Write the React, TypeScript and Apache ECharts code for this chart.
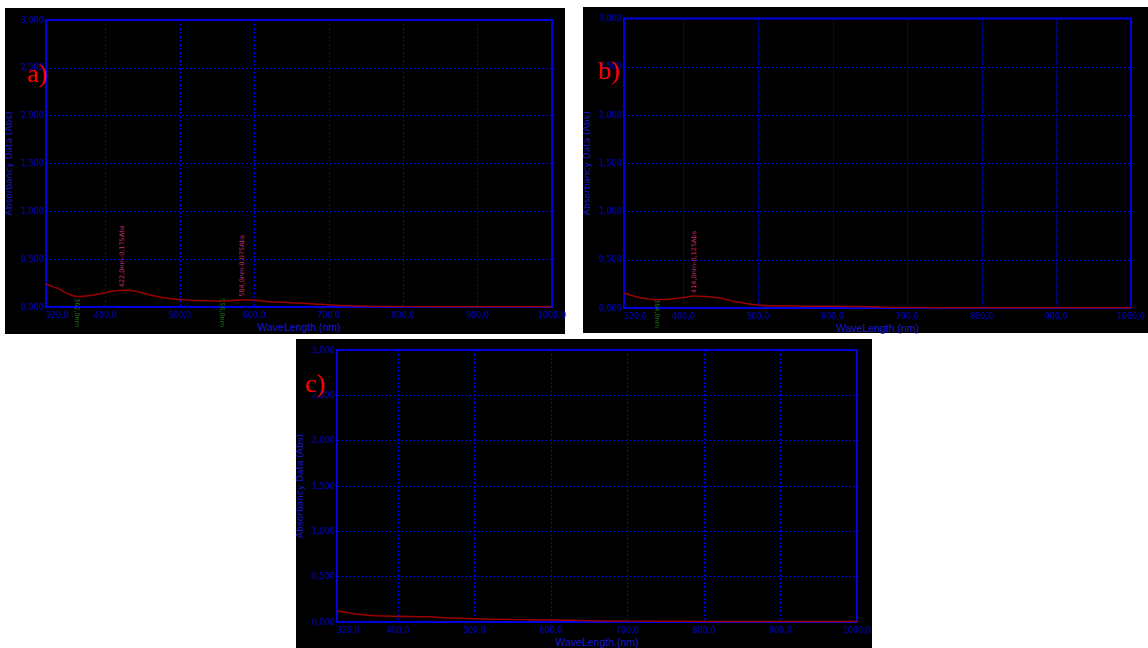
import React, { useEffect, useRef } from 'react';
import * as echarts from 'echarts';

// ---- data ----
const xTickLabels = [320, 400, 500, 600, 700, 800, 900, 1000];
const xGridValues = [400, 500, 600, 700, 800, 900];

const wavelengthsA = [320, 330, 340, 349, 362, 380, 400, 410, 422, 440, 460, 480, 500, 520, 540, 556, 570, 584, 600, 620, 650, 680, 700, 750, 800, 900, 1000];
const absorbanceA = [0.24, 0.21, 0.18, 0.14, 0.11, 0.12, 0.15, 0.165, 0.175, 0.165, 0.125, 0.095, 0.078, 0.068, 0.066, 0.06, 0.068, 0.075, 0.07, 0.056, 0.045, 0.032, 0.022, 0.009, 0.005, 0.003, 0.002];

const wavelengthsB = [320, 330, 345, 364, 380, 400, 414, 430, 450, 470, 490, 510, 550, 600, 650, 700, 800, 1000];
const absorbanceB = [0.155, 0.13, 0.1, 0.085, 0.09, 0.11, 0.125, 0.12, 0.1, 0.065, 0.038, 0.026, 0.02, 0.018, 0.012, 0.005, 0.003, 0.002];

const wavelengthsC = [320, 340, 360, 380, 400, 440, 460, 500, 550, 600, 650, 700, 800, 1000];
const absorbanceC = [0.125, 0.095, 0.075, 0.065, 0.063, 0.058, 0.047, 0.037, 0.027, 0.021, 0.015, 0.01, 0.006, 0.005];

const peakLabelsA = [
  { x: 422, y: 0.175, text: '422,0nm-0,175Abs' },
  { x: 584, y: 0.075, text: '584,0nm-0,075Abs' },
];
const valleyLabelsA = [
  { x: 362, text: '362,0nm' },
  { x: 556, text: '556,0nm' },
];
const peakLabelsB = [{ x: 414, y: 0.125, text: '414,0nm-0,125Abs' }];
const valleyLabelsB = [{ x: 364, text: '364,0nm' }];

const panelNames = ['a)', 'b)', 'c)'];

const BORDER = '#0000e0';
const GRID = '#0000e6';
const LABEL = '#0000c8';
const TITLE = '#1a1ad0';
const CURVE = '#9a0000';
const PEAK = '#c0306a';
const VALLEY = '#1d7a1d';

const fmtX = (v: number) => v.toFixed(1).replace('.', ',');
const fmtY = (v: number) => v.toFixed(3).replace('.', ',');

export default function App() {
  const ref = useRef<HTMLDivElement>(null);
  useEffect(() => {
    if (!ref.current) return;
    const chart = echarts.init(ref.current, null, { renderer: 'svg' });

    const grids = [
      { left: 46, top: 20, width: 506, height: 287 },
      { left: 624, top: 18.5, width: 519, height: 289.5 },
      { left: 337, top: 350, width: 520, height: 277 },
    ];

    const panels = [
      { x: 5, y: 8, w: 560, h: 326 },
      { x: 583, y: 7, w: 565, h: 326 },
      { x: 296, y: 339, w: 576, h: 309 },
    ];
    const namePos = [
      { x: 27, y: 73 },
      { x: 598, y: 70 },
      { x: 305, y: 383 },
    ];

    const xAxes = grids.map((_, i) => ({
      type: 'value',
      gridIndex: i,
      min: 320,
      max: 1000,
      name: 'WaveLength.(nm)',
      nameLocation: 'middle',
      nameGap: 14,
      nameTextStyle: { color: TITLE, fontSize: 10.5, fontFamily: 'Liberation Sans' },
      axisLine: { show: true, lineStyle: { color: BORDER, width: 2 } },
      axisTick: { show: false, customValues: xGridValues },
      axisLabel: {
        customValues: xTickLabels,
        formatter: fmtX,
        color: LABEL,
        fontSize: 8,
        fontFamily: 'DejaVu Sans',
        margin: 4,
        alignMinLabel: 'left',
        alignMaxLabel: 'center',
      },
      splitLine: { show: true, lineStyle: { color: GRID, type: [2, 2], width: 1 } },
    }));

    const yAxes = grids.map((_, i) => ({
      type: 'value',
      gridIndex: i,
      min: 0,
      max: 3,
      interval: 0.5,
      name: 'Absorbancy Data (Abs)',
      nameLocation: 'middle',
      nameGap: 33,
      nameTextStyle: { color: TITLE, fontSize: 9, fontFamily: 'DejaVu Sans' },
      axisLine: { show: true, lineStyle: { color: BORDER, width: 2 } },
      axisTick: { show: false },
      axisLabel: { formatter: fmtY, color: LABEL, fontSize: 8, fontFamily: 'DejaVu Sans', margin: 2 },
      splitLine: { show: true, lineStyle: { color: GRID, type: [2, 2], width: 1 } },
    }));

    const peakMark = (p: { x: number; y: number; text: string }) => ({
      coord: [p.x, p.y],
      symbol: 'circle',
      symbolSize: 0,
      label: {
        show: true,
        formatter: p.text,
        position: 'top',
        distance: 3,
        rotate: 90,
        align: 'left',
        verticalAlign: 'middle',
        color: PEAK,
        fontSize: 6.5,
        fontFamily: 'DejaVu Sans',
      },
    });
    const valleyMark = (p: { x: number; text: string }) => ({
      coord: [p.x, 0],
      symbol: 'circle',
      symbolSize: 0,
      label: {
        show: true,
        formatter: p.text,
        position: 'top',
        distance: 9,
        rotate: -90,
        align: 'left',
        verticalAlign: 'middle',
        color: VALLEY,
        fontSize: 6.5,
        fontFamily: 'DejaVu Sans',
      },
    });

    const mkSeries = (i: number, xs: number[], ys: number[], peaks: any[], valleys: any[]) => ({
      type: 'line',
      xAxisIndex: i,
      yAxisIndex: i,
      data: xs.map((x, k) => [x, ys[k]]),
      smooth: 0.4,
      showSymbol: false,
      lineStyle: { color: CURVE, width: 1.5 },
      z: 5,
      markPoint: {
        silent: true,
        data: [...peaks.map(peakMark), ...valleys.map(valleyMark)],
      },
    });

    chart.setOption({
      animation: false,
      backgroundColor: '#ffffff',
      grid: grids.map((g) => ({
        ...g,
        show: true,
        backgroundColor: '#000000',
        borderColor: BORDER,
        borderWidth: 2,
      })),
      xAxis: xAxes,
      yAxis: yAxes,
      series: [
        mkSeries(0, wavelengthsA, absorbanceA, peakLabelsA, valleyLabelsA),
        mkSeries(1, wavelengthsB, absorbanceB, peakLabelsB, valleyLabelsB),
        mkSeries(2, wavelengthsC, absorbanceC, [], []),
      ],
      graphic: [
        ...panels.map((p) => ({
          type: 'rect',
          z: -1,
          shape: { x: p.x, y: p.y, width: p.w, height: p.h },
          style: { fill: '#000000' },
        })),
        ...panelNames.map((n, i) => ({
          type: 'text',
          z: 100,
          x: namePos[i].x,
          y: namePos[i].y,
          style: {
            text: n,
            fill: '#ff0000',
            fontSize: 26,
            fontFamily: 'Liberation Serif',
            verticalAlign: 'middle',
            align: 'left',
          },
        })),
      ],
    });
    return () => chart.dispose();
  }, []);
  return <div ref={ref} style={{ position: 'absolute', left: 0, top: 0, width: 1148, height: 648 }} />;
}
